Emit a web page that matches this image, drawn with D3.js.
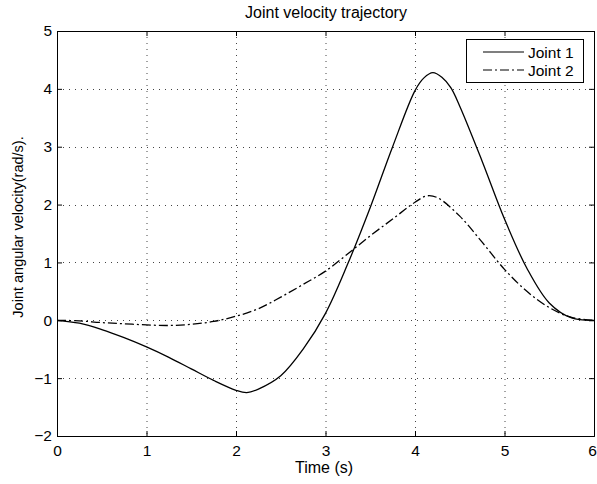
<!DOCTYPE html>
<html><head><meta charset="utf-8">
<script src="https://cdn.jsdelivr.net/npm/d3@7/dist/d3.min.js"></script>
<style>body{margin:0;background:#fff}svg{display:block}text{font-family:"Liberation Sans",Arial,sans-serif;fill:#000}</style>
</head><body><svg id="c" width="597" height="484"></svg>
<script>
const time1 = [0,0.25,0.5,0.75,1,1.25,1.5,1.75,2,2.12,2.25,2.5,2.75,3,3.25,3.5,3.75,4,4.1,4.2,4.3,4.4,4.5,4.75,5,5.25,5.5,5.75,6];
const joint1 = [0,-0.05,-0.16,-0.3,-0.46,-0.64,-0.84,-1.04,-1.21,-1.25,-1.19,-0.96,-0.5,0.12,0.98,1.95,3.0,3.97,4.19,4.28,4.2,4.02,3.7,2.75,1.75,0.9,0.3,0.04,0];
const time2 = [0,0.25,0.5,0.75,1,1.25,1.5,1.75,2,2.25,2.5,2.75,3,3.25,3.5,3.75,4,4.13,4.25,4.5,4.75,5,5.25,5.5,5.75,6];
const joint2 = [0,-0.01,-0.04,-0.06,-0.08,-0.09,-0.07,-0.02,0.07,0.2,0.4,0.62,0.85,1.15,1.46,1.75,2.04,2.15,2.12,1.8,1.35,0.88,0.5,0.22,0.05,0];
const xTicks = [0,1,2,3,4,5,6];
const yTicks = [-2,-1,0,1,2,3,4,5];
const seriesNames = ["Joint 1","Joint 2"];

const svg = d3.select("#c");
const L=57,R=594,T=31,B=436;
const x = d3.scaleLinear().domain([0,6]).range([L,R]);
const y = d3.scaleLinear().domain([-2,5]).range([B,T]);

// grid
const g = svg.append("g");
g.selectAll(".gx").data(xTicks.slice(1,-1)).enter().append("line")
 .attr("x1",d=>x(d)+0.5).attr("x2",d=>x(d)+0.5).attr("y1",T).attr("y2",B)
 .attr("stroke","#444").attr("stroke-width",1).attr("stroke-dasharray","1,5");
g.selectAll(".gy").data(yTicks.slice(1,-1)).enter().append("line")
 .attr("y1",d=>Math.round(y(d))+0.5).attr("y2",d=>Math.round(y(d))+0.5).attr("x1",L).attr("x2",R)
 .attr("stroke","#444").attr("stroke-width",1).attr("stroke-dasharray","1,5");

// axes
const fs = "15.5px";
const ax = svg.append("g").attr("transform",`translate(0,${B})`)
 .call(d3.axisBottom(x).tickValues(xTicks).tickSize(-5).tickPadding(9).tickFormat(d3.format("d")));
const ay = svg.append("g").attr("transform",`translate(${L},0)`)
 .call(d3.axisLeft(y).tickValues(yTicks).tickSize(-5).tickPadding(5).tickFormat(d=>d<0?"\u2212"+(-d):d));
const at = svg.append("g").attr("transform",`translate(0,${T})`)
 .call(d3.axisTop(x).tickValues(xTicks).tickSize(-5).tickFormat(""));
const ar = svg.append("g").attr("transform",`translate(${R},0)`)
 .call(d3.axisRight(y).tickValues(yTicks).tickSize(-5).tickFormat(""));
[ax,ay,at,ar].forEach(a=>{a.select(".domain").attr("stroke","#000");a.selectAll("text").style("font-size",fs).attr("fill","#000");a.selectAll(".tick line").attr("stroke","#000");});
ax.selectAll(".tick text").filter(d=>d===6).attr("dx","-2");

// lines
const line = d3.line().curve(d3.curveCatmullRom.alpha(0.5));
svg.append("path").datum(time1.map((t,i)=>[x(t),y(joint1[i])]))
 .attr("d",line).attr("fill","none").attr("stroke","#000").attr("stroke-width",1.3);
svg.append("path").datum(time2.map((t,i)=>[x(t),y(joint2[i])]))
 .attr("d",line).attr("fill","none").attr("stroke","#000").attr("stroke-width",1.3).attr("stroke-dasharray","9,3,2,3");

// legend
const lg = svg.append("g");
lg.append("rect").attr("x",466.5).attr("y",39.5).attr("width",117).attr("height",43).attr("fill","#fff").attr("stroke","#000");
seriesNames.forEach((n,i)=>{
  const yy = 52+i*18;
  lg.append("line").attr("x1",483).attr("x2",524).attr("y1",yy).attr("y2",yy).attr("stroke","#000").attr("stroke-width",1.2)
    .attr("stroke-dasharray",i===1?"9,3,2,3":null);
  lg.append("text").attr("x",528).attr("y",yy+5.5).style("font-size","15.5px").text(n);
});

// labels
svg.append("text").attr("x",326).attr("y",18).attr("text-anchor","middle").style("font-size","16px").text("Joint velocity trajectory");
svg.append("text").attr("x",324).attr("y",473).attr("text-anchor","middle").style("font-size","16px").text("Time (s)");
svg.append("text").attr("transform","translate(23,227) rotate(-90)").attr("text-anchor","middle").style("font-size","14.5px").text("Joint angular velocity(rad/s).");
</script></body></html>
